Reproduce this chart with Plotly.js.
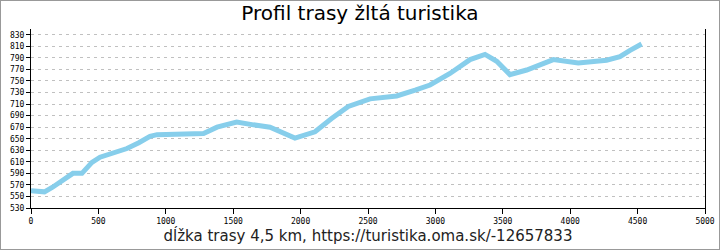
<!DOCTYPE html>
<html>
<head>
<meta charset="utf-8">
<script src="https://cdn.plot.ly/plotly-3.0.1.min.js"></script>
<style>
html,body{margin:0;padding:0;background:#fff;}
#frame{width:720px;height:250px;box-sizing:border-box;border:1px solid #999;position:relative;overflow:hidden;}
#chart{position:absolute;left:-1px;top:-1px;width:720px;height:250px;}
</style>
</head>
<body>
<div id="frame"><div id="chart"></div></div>
<script>
const distance = [0, 50, 100, 160, 230, 311, 378, 452, 512, 600, 712, 800, 883, 935, 1050, 1150, 1280, 1380, 1526, 1650, 1773, 1958, 2107, 2230, 2354, 2515, 2713, 2850, 2960, 3108, 3257, 3368, 3455, 3553, 3677, 3875, 4060, 4270, 4369, 4444, 4530];
const elevation = [560, 558, 558, 566, 578, 590, 590, 609, 618, 625, 633, 643, 654, 657, 657, 657, 659, 670, 679, 674, 670, 651, 662, 685, 706, 719, 724, 734, 743, 763, 787, 796, 784, 761, 769, 787, 781, 786, 792, 803, 814];
const xTicks = [0, 500, 1000, 1500, 2000, 2500, 3000, 3500, 4000, 4500, 5000];
const yTicks = [530, 550, 570, 590, 610, 630, 650, 670, 690, 710, 730, 750, 770, 790, 810, 830];

const tickFont = {family: 'DejaVu Sans Mono', size: 8, color: '#000'};

Plotly.newPlot('chart', [{
  x: distance, y: elevation, type: 'scatter', mode: 'lines',
  line: {color: '#87CEEB', width: 5}, hoverinfo: 'skip'
}], {
  width: 720, height: 250,
  margin: {l: 31, r: 15, t: 29, b: 42},
  paper_bgcolor: '#fff', plot_bgcolor: '#fff',
  showlegend: false,
  title: {text: 'Profil trasy žltá turistika', x: 0.5, xanchor: 'center', y: 0.95, yanchor: 'middle',
    font: {family: 'DejaVu Sans', size: 20, color: '#000'}},
  xaxis: {
    range: [0, 5000], tickvals: xTicks, ticktext: xTicks.map(String),
    ticks: 'outside', ticklen: 5, tickcolor: '#000', tickwidth: 1,
    showline: true, linecolor: '#000', linewidth: 1, mirror: false,
    showgrid: false, zeroline: false, tickfont: tickFont,
    title: {text: 'dĺžka trasy 4,5 km, https://turistika.oma.sk/-12657833', standoff: 4,
      font: {family: 'DejaVu Sans', size: 15, color: '#222'}}
  },
  yaxis: {
    range: [530, 840], tickvals: yTicks, ticktext: yTicks.map(String),
    ticks: 'outside', ticklen: 4, tickcolor: '#000', tickwidth: 1,
    showline: true, linecolor: '#000', linewidth: 1, mirror: true,
    showgrid: true, gridcolor: '#c0c0c0', griddash: '3px,4px', gridwidth: 1,
    zeroline: false, tickfont: tickFont
  }
}, {staticPlot: true, displayModeBar: false});
</script>
</body>
</html>
